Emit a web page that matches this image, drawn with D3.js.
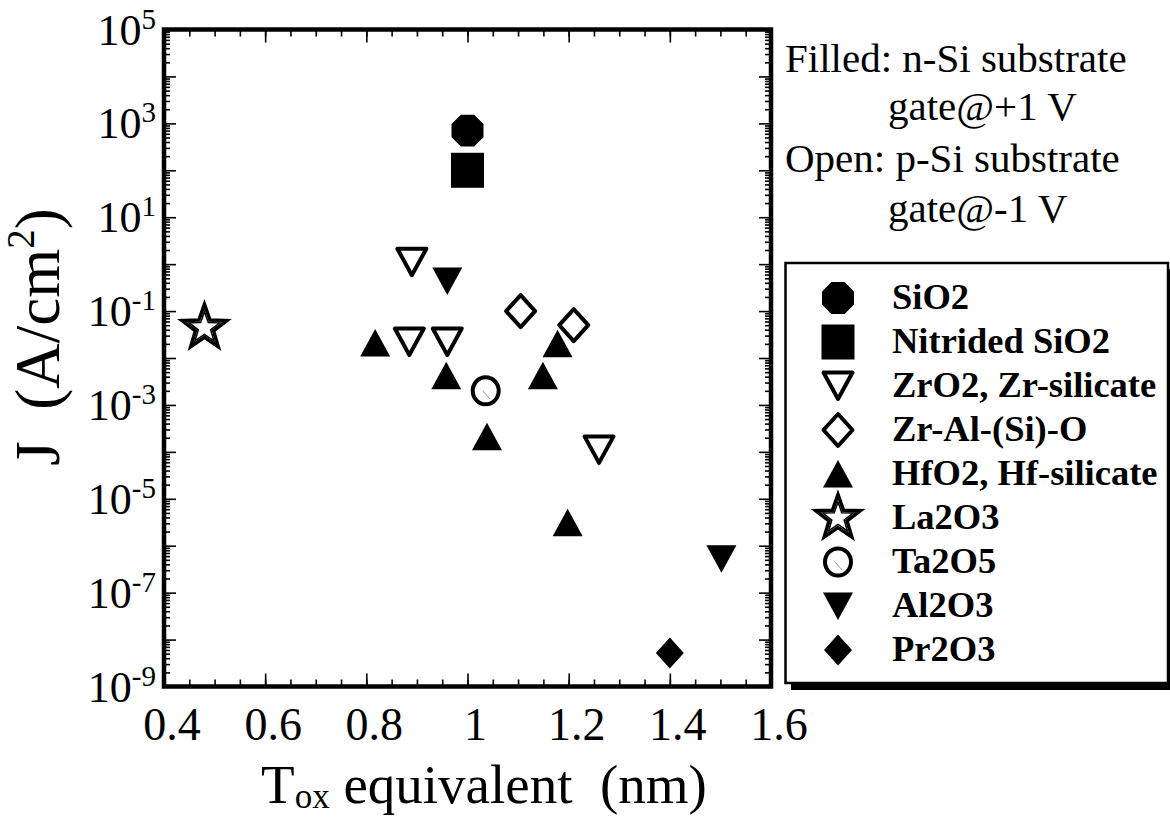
<!DOCTYPE html>
<html>
<head>
<meta charset="utf-8">
<script src="https://cdn.jsdelivr.net/npm/d3@7"></script>
<style>
  body { margin: 0; background: #fff; }
  svg { display: block; font-family: "Liberation Serif", "Times New Roman", serif; }
</style>
</head>
<body>
<div class="plot"></div>
<script>
//Data (Tox in nm, J in A/cm2)
const sio2Tox = [1.0];
const sio2J = [700];
const nitridedTox = [1.0];
const nitridedJ = [100];
const zrTox = [0.89, 0.885, 0.96, 1.26];
const zrJ = [1.1, 0.022, 0.022, 1.1e-4];
const zralTox = [1.105, 1.21];
const zralJ = [0.1, 0.05];
const hfTox = [0.8175, 0.958, 1.0385, 1.149, 1.178, 1.198];
const hfJ = [0.021, 4.2e-3, 2.1e-4, 4.2e-3, 0.02, 3.1e-6];
const laTox = [0.48];
const laJ = [0.044];
const taTox = [1.036];
const taJ = [2.0e-3];
const alTox = [0.96, 1.502];
const alJ = [0.44, 5.3e-7];
const prTox = [1.4];
const prJ = [5.2e-9];

const legendNames = ["SiO2", "Nitrided SiO2", "ZrO2, Zr-silicate", "Zr-Al-(Si)-O",
  "HfO2, Hf-silicate", "La2O3", "Ta2O5", "Al2O3", "Pr2O3"];
const xTickLabels = ["0.4", "0.6", "0.8", "1", "1.2", "1.4", "1.6"];
const yLabelExps = [5, 3, 1, -1, -3, -5, -7, -9];

//Create svg
const width = 1170;
const height = 818;
const svg = d3.select('.plot')
  .append('svg')
  .attr('width', width)
  .attr('height', height);

const x = d3.scaleLinear().domain([0.4, 1.6]).range([164, 771]);
const y = d3.scaleLog().domain([1e-9, 1e5]).range([686.5, 29.5]);

//tick values
const xMajor = d3.range(0, 7).map(i => 0.4 + i * 0.2);
const xMinor = d3.range(0, 25).map(i => 0.4 + i * 0.05);
const yMajor = d3.range(-9, 6).map(e => Math.pow(10, e));
let yMinor = [];
for (let e = -9; e < 5; e++) {
  for (let m = 2; m <= 9; m++) yMinor.push(m * Math.pow(10, e));
}

//Axes (ticks pointing inward on all four sides)
function drawAxis(axis, tx, ty) {
  const g = svg.append('g')
    .attr('transform', `translate(${tx},${ty})`)
    .call(axis);
  g.select('.domain').remove();
  g.selectAll('line').attr('stroke', '#000').attr('stroke-width', 1.6);
  g.selectAll('text').remove();
}
drawAxis(d3.axisBottom(x).tickValues(xMajor).tickSize(-13), 0, 686.5);
drawAxis(d3.axisBottom(x).tickValues(xMinor).tickSize(-7), 0, 686.5);
drawAxis(d3.axisTop(x).tickValues(xMajor).tickSize(-13), 0, 29.5);
drawAxis(d3.axisTop(x).tickValues(xMinor).tickSize(-7), 0, 29.5);
drawAxis(d3.axisLeft(y).tickValues(yMajor).tickSize(-12), 164, 0);
drawAxis(d3.axisLeft(y).tickValues(yMinor).tickSize(-6), 164, 0);
drawAxis(d3.axisRight(y).tickValues(yMajor).tickSize(-12), 771, 0);
drawAxis(d3.axisRight(y).tickValues(yMinor).tickSize(-6), 771, 0);

//Frame
svg.append('rect')
  .attr('x', 164).attr('y', 29.5)
  .attr('width', 771 - 164).attr('height', 686.5 - 29.5)
  .attr('fill', 'none')
  .attr('stroke', '#000')
  .attr('stroke-width', 4.5);

//X tick labels
svg.selectAll('.xlab')
  .data(xTickLabels)
  .enter()
  .append('text')
  .attr('class', 'xlab')
  .attr('x', (d, i) => x(xMajor[i]) + 8)
  .attr('y', 740)
  .attr('text-anchor', 'middle')
  .attr('font-size', '46px')
  .text(d => d);

//Y tick labels 10^n
let ylab = svg.selectAll('.ylab')
  .data(yLabelExps)
  .enter()
  .append('text')
  .attr('class', 'ylab')
  .attr('x', 156)
  .attr('y', d => y(Math.pow(10, d)) + 15)
  .attr('text-anchor', 'end')
  .attr('font-size', '44px');
ylab.append('tspan').text('10');
ylab.append('tspan')
  .attr('font-size', '29px')
  .attr('dy', -16)
  .text(d => d);

//Axis titles
let xt = svg.append('text')
  .attr('x', 484)
  .attr('y', 803)
  .attr('text-anchor', 'middle')
  .attr('font-size', '55px');
xt.append('tspan').text('T');
xt.append('tspan').attr('font-size', '35px').attr('dy', 5).text('ox');
xt.append('tspan').attr('dy', -5).text(' equivalent\u00a0\u00a0(nm)');

let yt = svg.append('text')
  .attr('transform', 'translate(59,337) rotate(-90)')
  .attr('text-anchor', 'middle')
  .attr('font-size', '63px');
yt.append('tspan').text('J\u00a0\u00a0(A/cm');
yt.append('tspan').attr('font-size', '39px').attr('dy', -25).text('2');
yt.append('tspan').attr('dy', 25).text(')');

//Marker shapes, each centred on its bounding box
function poly(pts) {
  return 'M' + pts.map(p => p.join(',')).join('L') + 'Z';
}
function octagon(r) {
  let pts = [];
  for (let k = 0; k < 8; k++) {
    const a = (22.5 + 45 * k) * Math.PI / 180;
    pts.push([r * Math.cos(a), r * Math.sin(a)]);
  }
  return poly(pts);
}
function star(R, r) {
  let pts = [];
  for (let k = 0; k < 10; k++) {
    const a = -Math.PI / 2 + k * Math.PI / 5;
    const rad = k % 2 === 0 ? R : r;
    pts.push([rad * Math.cos(a), rad * Math.sin(a)]);
  }
  return poly(pts);
}

const shapes = {
  octagon: g => g.append('path').attr('d', octagon(17.3)).attr('fill', '#000'),
  square: g => g.append('rect').attr('x', -16.5).attr('y', -17.5).attr('width', 33).attr('height', 35).attr('fill', '#000'),
  triDownOpen: g => g.append('path').attr('d', poly([[-14.5, -13.5], [14.5, -13.5], [0, 13]]))
    .attr('fill', '#fff').attr('stroke', '#000').attr('stroke-width', 4).attr('stroke-linejoin', 'round'),
  diamondOpen: g => g.append('path').attr('d', poly([[0, -16], [14.5, 0], [0, 16], [-14.5, 0]]))
    .attr('fill', '#fff').attr('stroke', '#000').attr('stroke-width', 4).attr('stroke-linejoin', 'round'),
  triUp: g => g.append('path').attr('d', poly([[0, -14], [15, 13.5], [-15, 13.5]])).attr('fill', '#000'),
  star: g => {
    g.append('path').attr('d', star(23.5, 9.5)).attr('fill', '#fff')
      .attr('stroke', '#000').attr('stroke-width', 3.5).attr('stroke-linejoin', 'miter');
    g.append('path').attr('d', star(16, 6.5)).attr('fill', 'none')
      .attr('stroke', '#000').attr('stroke-width', 1.5);
  },
  circleOpen: g => {
    g.append('ellipse').attr('rx', 13).attr('ry', 13.5).attr('fill', '#fff')
      .attr('stroke', '#000').attr('stroke-width', 4);
    g.append('line').attr('x1', -3).attr('y1', 0).attr('x2', 4).attr('y2', 8)
      .attr('stroke', '#999').attr('stroke-width', 1);
  },
  triDown: g => g.append('path').attr('d', poly([[-15, -13.5], [15, -13.5], [0, 14]])).attr('fill', '#000'),
  diamond: g => g.append('path').attr('d', poly([[0, -15.5], [14, 0], [0, 15.5], [-14, 0]])).attr('fill', '#000')
};

const series = [
  { tox: sio2Tox, j: sio2J, shape: 'octagon' },
  { tox: nitridedTox, j: nitridedJ, shape: 'square' },
  { tox: zrTox, j: zrJ, shape: 'triDownOpen' },
  { tox: zralTox, j: zralJ, shape: 'diamondOpen' },
  { tox: hfTox, j: hfJ, shape: 'triUp' },
  { tox: laTox, j: laJ, shape: 'star' },
  { tox: taTox, j: taJ, shape: 'circleOpen' },
  { tox: alTox, j: alJ, shape: 'triDown' },
  { tox: prTox, j: prJ, shape: 'diamond' }
];

//Add points
series.forEach(s => {
  svg.selectAll(null)
    .data(s.tox.map((t, i) => ({ t: t, j: s.j[i] })))
    .enter()
    .append('g')
    .attr('transform', d => `translate(${x(d.t)},${y(d.j)})`)
    .each(function() { shapes[s.shape](d3.select(this)); });
});

//Notes in upper right
const notes = [
  { text: 'Filled: n-Si substrate', x: 785, y: 72 },
  { text: 'gate@+1 V', x: 888, y: 120 },
  { text: 'Open: p-Si substrate', x: 785, y: 172 },
  { text: 'gate@-1 V', x: 888, y: 222 }
];
svg.selectAll('.note')
  .data(notes)
  .enter()
  .append('text')
  .attr('x', d => d.x)
  .attr('y', d => d.y)
  .attr('font-size', '41px')
  .text(d => d.text);

//Legend box with shadow
svg.append('rect')
  .attr('x', 791).attr('y', 269)
  .attr('width', 400).attr('height', 421)
  .attr('fill', '#000');
svg.append('rect')
  .attr('x', 785.5).attr('y', 263)
  .attr('width', 382.5).attr('height', 420)
  .attr('fill', '#fff')
  .attr('stroke', '#000')
  .attr('stroke-width', 2.5);

let legend = svg.selectAll('.legend')
  .data(series)
  .enter()
  .append('g')
  .attr('class', 'legend')
  .attr('transform', (d, i) => `translate(838,${298 + 44 * i})`);
legend.each(function(d) { shapes[d.shape](d3.select(this)); });
legend.append('text')
  .attr('x', 54)
  .attr('y', 11)
  .attr('font-size', '36.5px')
  .attr('font-weight', 'bold')
  .text((d, i) => legendNames[i]);
</script>
</body>
</html>
